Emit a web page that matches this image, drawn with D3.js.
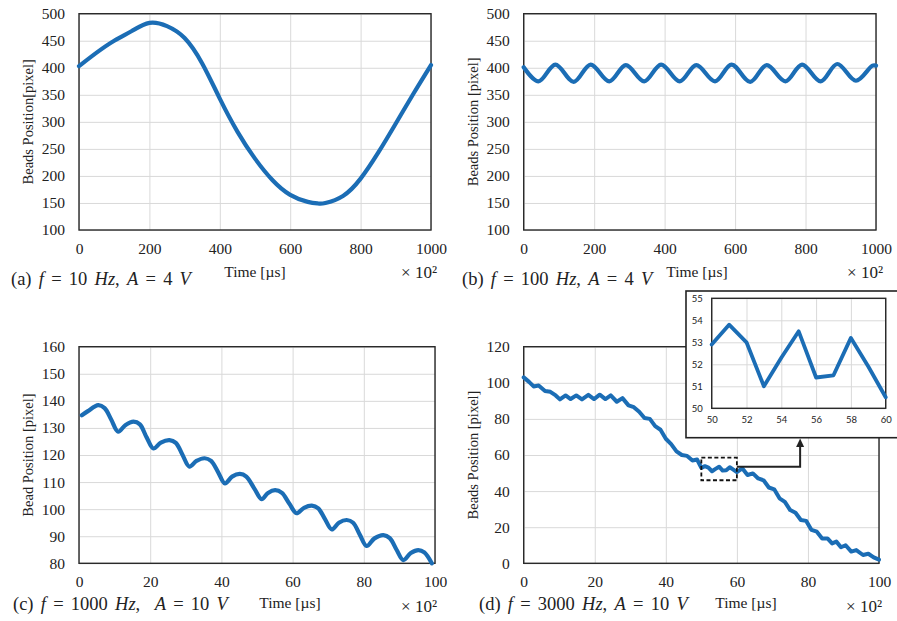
<!DOCTYPE html>
<html><head><meta charset="utf-8">
<script src="https://cdn.jsdelivr.net/npm/d3@7/dist/d3.min.js"></script>
<style>
html,body{margin:0;padding:0;background:#fff;}
svg{display:block;}
text{font-family:"Liberation Serif","Times New Roman",serif;fill:#222;}
</style></head>
<body>
<svg id="chart" width="897" height="621"></svg>
<script>
// ---------- data ----------
// (a) f = 10 Hz, A = 4 V
const aTime = [0,50,100,150,200,250,300,350,400,450,500,550,600,650,680,700,750,800,850,900,950,1000];
const aPos  = [403,428,450,468,483,477,455,408,343,282,232,192,165,152,149,150,163,195,243,297,352,405];
// (b) f = 100 Hz, A = 4 V
const bTime = [0,42,90,142,190,243,290,342,390,443,490,543,590,643,690,743,790,843,890,943,990,1000];
const bPos  = [401,375,406,374,406,375,405,375,406,375,405,375,406,374,405,375,406,375,407,376,404,404];
// (c) f = 1000 Hz, A = 10 V
const cTime = [0.8,2.5,5.4,7.2,9.0,11.0,13.0,15.3,17.1,19.0,20.9,23.0,25.4,27.2,29.1,31.0,33.0,35.3,37.1,39.1,41.0,43.0,45.2,47.0,49.3,51.3,53.1,55.1,57.0,59.1,61.1,63.2,65.4,67.2,69.1,71.0,73.0,75.2,77.0,78.9,80.8,83.0,85.5,87.3,89.2,91.1,93.2,95.3,97.0,99.1];
const cPos  = [134.7,136.2,138.4,137.3,133.2,128.6,131.0,132.3,131.3,126.5,122.4,124.6,125.5,124.5,120.0,115.7,117.8,118.8,117.8,113.6,109.5,112.0,113.0,112.0,107.5,103.7,106.0,107.0,106.0,102.0,98.5,100.5,101.3,100.3,96.3,92.5,95.0,96.0,95.0,90.5,86.4,89.2,90.4,89.3,85.0,81.2,83.8,84.9,84.0,80.0];
// (d) f = 3000 Hz, A = 10 V
const dTime = [0,1.5,2.8,4.2,6,7.5,9,10.2,11.8,13.2,14.8,16.4,18.2,19.8,21.4,23,24.5,26.2,27.8,29.5,31,32.5,34,35.5,37,38.5,40,41.5,43,44.5,46,47.5,48.8,50,51,52,53,54,55,56,57,58,59,60,61.5,63,64.5,66,67.5,69,70.5,72,73.5,75,76.5,78,79.5,81,82.5,84,85.5,86.8,88,89.3,90.6,92.2,93.6,95.5,97,98.5,100];
const dPos  = [103,100.5,98,98.5,95.5,95,93,90.8,93,91,93,90.8,93.3,91,93.4,91,93,89.5,91.5,87.5,86.5,84,80.5,80,76,74,69,66,62,60,59.5,57,57.5,52.9,53.8,53.0,51.0,52.3,53.5,51.4,51.5,53.2,51.9,50.5,52.6,48.9,49.8,47,46,42,41,36,34,29.5,28,24,23.5,18.5,17.5,13.8,13.8,11,12,8.9,10,6.5,7.3,4.6,5.3,3.3,2];
// inset of (d): 50..60
const insetTime = [50,51,52,53,54,55,56,57,58,59,60];
const insetPos  = [52.9,53.8,53.0,51.0,52.3,53.5,51.4,51.5,53.2,51.9,50.5];

// tick values
const aXTicks = [0,200,400,600,800,1000];
const aYTicks = [100,150,200,250,300,350,400,450,500];
const cXTicks = [0,20,40,60,80,100];
const cYTicks = [80,90,100,110,120,130,140,150,160];
const dYTicks = [0,20,40,60,80,100,120];
const insetXTicks = [50,52,54,56,58,60];
const insetYTicks = [50,51,52,53,54,55];
const zoomBox = [50,60,46,58.5];   // x0,x1,y0,y1 of dashed region in (d)

// ---------- drawing ----------
const svg = d3.select('#chart');
svg.append('rect').attr('width',897).attr('height',621).attr('fill','#fff');
const BLUE = '#1b6db5';
const GRID = '#d9d9d9';

function drawPanel(p){
  const [L,T,R,B] = p.box;
  const x = d3.scaleLinear().domain(p.xDom).range([L,R]);
  const y = d3.scaleLinear().domain(p.yDom).range([B,T]);
  const g = svg.append('g');
  const ya = g.append('g').attr('transform',`translate(${L},0)`)
    .call(d3.axisLeft(y).tickValues(p.yTicks).tickSize(-(R-L)).tickPadding(p.tickPad||14).tickFormat(d3.format('d')));
  ya.select('.domain').remove();
  ya.selectAll('line').attr('stroke',GRID).attr('stroke-width',1);
  ya.selectAll('text').attr('font-size',p.tickFont||15.5).attr('fill','#222')
    .style('font-family',p.tickFamily||null);
  const xa = g.append('g').attr('transform',`translate(0,${B})`)
    .call(d3.axisBottom(x).tickValues(p.xTicks).tickSize(-(B-T)).tickPadding(p.xPad||13).tickFormat(d3.format('d')));
  xa.select('.domain').remove();
  xa.selectAll('line').attr('stroke',GRID).attr('stroke-width',1);
  xa.selectAll('text').attr('font-size',p.tickFont||15.5).attr('fill','#222')
    .style('font-family',p.tickFamily||null);
  g.append('rect').attr('x',L).attr('y',T).attr('width',R-L).attr('height',B-T)
    .attr('fill','none').attr('stroke','#2a2a2a').attr('stroke-width',p.frameW||1.4);
  const line = d3.line().x((d,i)=>x(p.xs[i])).y((d,i)=>y(p.ys[i])).curve(p.curve||d3.curveLinear);
  g.append('path').datum(p.ys).attr('d',line).attr('fill','none')
    .attr('stroke',BLUE).attr('stroke-width',p.lineW||4.2).attr('stroke-linejoin','round').attr('stroke-linecap','round');
  if(p.yTitle){
    g.append('text').attr('transform',`translate(${p.yTitleX},${(T+B)/2}) rotate(-90)`)
      .attr('text-anchor','middle').attr('dominant-baseline','central')
      .attr('font-size',14.5).text(p.yTitle);
  }
  if(p.timeX){
    g.append('text').attr('x',p.timeX).attr('y',p.timeY).attr('text-anchor','middle')
      .attr('font-size',15.5).text('Time [µs]');
    g.append('text').attr('x',p.expX).attr('y',p.expY).attr('text-anchor','end')
      .attr('font-size',17).text('× 10²');
  }
  if(p.caption){
    const t = g.append('text').attr('x',p.capX).attr('y',p.capY).attr('font-size',18.5)
      .style('white-space','pre').attr('word-spacing',2.6);
    p.caption.forEach(([s,it])=>{ t.append('tspan').attr('font-style',it?'italic':'normal').text(s); });
  }
  return {x,y,g};
}

drawPanel({box:[79,13.7,431,230], xDom:[0,1000], yDom:[100,500], xTicks:aXTicks, yTicks:aYTicks,
  xs:aTime, ys:aPos, curve:d3.curveNatural, yTitle:'Beads Position[pixel]', yTitleX:28,
  timeX:255, timeY:277, expX:437, expY:278, capX:11, capY:285,
  caption:[['(a) ',0],['f',1],[' = 10 ',0],['Hz',1],[', ',0],['A',1],[' = 4 ',0],['V',1]]});

drawPanel({box:[523.7,13.7,876,230], xDom:[0,1000], yDom:[100,500], xTicks:aXTicks, yTicks:aYTicks,
  xs:bTime, ys:bPos, curve:d3.curveCatmullRom, yTitle:'Beads Position [pixel]', yTitleX:473,
  timeX:697, timeY:277, expX:883, expY:278, capX:462, capY:285,
  caption:[['(b) ',0],['f',1],[' = 100 ',0],['Hz',1],[', ',0],['A',1],[' = 4 ',0],['V',1]]});

drawPanel({box:[79,346.7,435,563.3], xDom:[0,100], yDom:[80,160], xTicks:cXTicks, yTicks:cYTicks,
  xs:cTime, ys:cPos, curve:d3.curveCatmullRom, yTitle:'Bead Position [pixel]', yTitleX:28,
  timeX:290, timeY:608, expX:437, expY:612, capX:13, capY:610,
  caption:[['(c) ',0],['f',1],[' = 1000 ',0],['Hz',1],[',  ',0],['A',1],[' = 10 ',0],['V',1]]});

const D = drawPanel({box:[523.7,346.7,879,563.3], xDom:[0,100], yDom:[0,120], xTicks:cXTicks, yTicks:dYTicks,
  xs:dTime, ys:dPos, curve:d3.curveLinear, lineW:4, yTitle:'Beads Position [pixel]', yTitleX:473,
  timeX:746, timeY:608, expX:882, expY:612, capX:479, capY:610,
  caption:[['(d) ',0],['f',1],[' = 3000 ',0],['Hz',1],[', ',0],['A',1],[' = 10 ',0],['V',1]]});

// dashed zoom box
D.g.append('rect').attr('x',D.x(zoomBox[0])).attr('y',D.y(zoomBox[3]))
  .attr('width',D.x(zoomBox[1])-D.x(zoomBox[0])).attr('height',D.y(zoomBox[2])-D.y(zoomBox[3]))
  .attr('fill','none').attr('stroke','#111').attr('stroke-width',1.8).attr('stroke-dasharray','4,2.5');

// inset outer frame
svg.append('rect').attr('x',686).attr('y',291).attr('width',230).attr('height',146.7)
  .attr('fill','#fff').attr('stroke','#222').attr('stroke-width',1.6);

// arrow
const arrowY = D.y(53.5);
const arrowX = D.x(77.8);
svg.append('path').attr('d',`M${D.x(zoomBox[1])},${arrowY}H${arrowX}V${446}`)
  .attr('fill','none').attr('stroke','#222').attr('stroke-width',2);
svg.append('path').attr('d',`M${arrowX-4},${447}L${arrowX},${438.5}L${arrowX+4},${447}Z`).attr('fill','#222');

drawPanel({box:[711.7,298.3,885.7,408.3], xDom:[50,60], yDom:[50,55], xTicks:insetXTicks, yTicks:insetYTicks,
  xs:insetTime, ys:insetPos, curve:d3.curveLinear, lineW:3.8, tickFont:9.5, tickPad:9, xPad:8,
  tickFamily:'Lato, "Open Sans", sans-serif', frameW:1.4});
</script>
</body></html>
